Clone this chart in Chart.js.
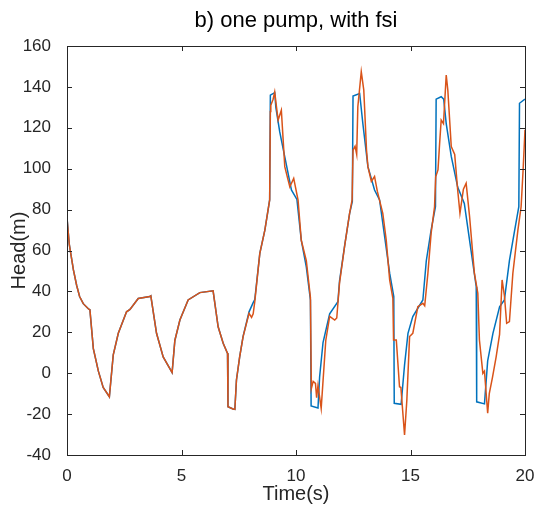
<!DOCTYPE html>
<html>
<head>
<meta charset="utf-8">
<script src="https://cdn.jsdelivr.net/npm/chart.js@4/dist/chart.umd.min.js"></script>
<style>
html,body{margin:0;padding:0;background:#fff;}
canvas{display:block;}
</style>
</head>
<body>
<canvas id="c" width="534" height="510"></canvas>
<script>
const chartTitle = "b) one pump, with fsi";
const xTitle = "Time(s)";
const yTitle = "Head(m)";
const xTicks = [0, 5, 10, 15, 20];
const yTicks = [-40, -20, 0, 20, 40, 60, 80, 100, 120, 140, 160];

const timeBlue = [0,0.1,0.28,0.42,0.55,0.71,0.93,1.0,1.15,1.37,1.58,1.85,2.02,2.24,2.6,2.75,3.11,3.62,3.66,3.91,4.2,4.59,4.71,4.93,5.29,5.8,6.38,6.6,6.82,7.01,7.03,7.25,7.33,7.4,7.54,7.69,7.95,8.13,8.2,8.42,8.64,8.85,8.88,9.07,9.12,9.29,9.51,9.8,10.04,10.23,10.45,10.63,10.66,10.96,11.03,11.18,11.47,11.83,11.9,12.12,12.34,12.46,12.49,12.78,12.92,13.14,13.43,13.65,14.09,14.27,14.29,14.59,14.74,14.89,15.1,15.54,15.69,15.9,16.09,16.12,16.34,16.45,16.56,16.78,17.06,17.35,17.58,17.87,17.89,18.23,18.37,18.6,18.89,19.1,19.32,19.55,19.73,19.76,20.0];
const headBlue = [76,63,50.5,43,37.5,34,31.5,31,12,1,-7,-11.5,9,19.5,30,31.2,36.5,37.5,37.8,19.5,8,0.3,16,26,35.8,39.4,40.3,22.7,14.6,9.7,-16.4,-17.5,-17.7,-3.3,8,18,30,34.5,36,58.6,70,84.7,136,137.2,130,118,105.8,89.6,85,65.1,52,35.8,-16,-17,-2,15,29,35,45,62,78,84,135.5,136.8,122,101,89.6,84.7,48.9,37.5,-14.7,-15.2,4,19.5,27.7,35.8,55,70,81.4,134,135.2,134,122,106,91,83,65,42.3,-14,-15,6,19.5,32.5,35.8,55,70,81.4,132,134];

const timeOrange = [0,0.1,0.28,0.42,0.55,0.71,0.93,1.0,1.15,1.37,1.58,1.85,2.02,2.24,2.6,2.75,3.11,3.62,3.66,3.91,4.2,4.59,4.71,4.93,5.29,5.8,6.38,6.6,6.82,7.01,7.03,7.25,7.33,7.4,7.54,7.69,7.95,8.06,8.13,8.2,8.42,8.64,8.85,8.88,8.9,9.0,9.07,9.15,9.22,9.36,9.51,9.62,9.73,9.9,10.09,10.23,10.45,10.63,10.67,10.75,10.85,10.9,10.96,11.1,11.3,11.47,11.69,11.78,11.9,12.12,12.34,12.45,12.49,12.58,12.65,12.7,12.85,12.96,13.08,13.14,13.29,13.43,13.55,13.79,13.94,14.09,14.23,14.26,14.38,14.52,14.58,14.74,14.84,14.96,15.1,15.32,15.54,15.62,15.76,15.9,16.05,16.1,16.2,16.27,16.34,16.44,16.56,16.63,16.78,16.93,17.06,17.16,17.31,17.43,17.58,17.79,17.94,18.01,18.16,18.23,18.37,18.44,18.58,18.74,18.89,19.0,19.1,19.2,19.32,19.47,19.69,19.83,19.92,20.0];
const headOrange = [76,63,50.5,43,37.5,34,31.5,31,12,1,-7,-11.5,9,19.5,30,31.2,36.5,37.5,37.8,19.5,8,0.3,16,26,35.8,39.4,40.3,22.7,14.6,9.7,-16.4,-17.5,-17.7,-3.3,8,17.9,29.3,27.3,29,35,58.6,70,84.7,128,131,134,137.5,130,123.8,128.6,101,96,91.2,95.3,84.7,65,55,37,-7.6,-4,-5,-12,-6,-17.2,16,27.8,26,27,44,61.9,78.2,84.7,109,111,107,130.3,147.4,138.4,109,101,93.8,96.2,89,78.2,65.1,45.6,36.6,16.2,16.2,-6.6,-7,-30.2,-13.2,17.9,19.5,32.5,34.2,33,48.9,68.4,81.4,96,99.4,112,123.8,122,145.8,138.4,110.8,107,89.6,78.2,90,92.9,76.6,48.9,39.1,16.2,-0.1,1,-19.6,-10,-2,8,19,45.6,38,24.4,25.2,48.9,70,81.4,100,119];

const toPts = (xs, ys) => xs.map((x, i) => ({x: x, y: ys[i]}));

const boxPlugin = {
  id: 'matlabBox',
  afterDatasetsDraw(chart) {
    const {ctx, chartArea: a, scales} = chart;
    ctx.save();
    ctx.strokeStyle = '#262626';
    ctx.lineWidth = 1;
    ctx.beginPath();
    const L = 5;
    xTicks.forEach(v => {
      const px = Math.round(scales.x.getPixelForValue(v)) + 0.5;
      ctx.moveTo(px, a.bottom); ctx.lineTo(px, a.bottom - L);
      ctx.moveTo(px, a.top); ctx.lineTo(px, a.top + L);
    });
    yTicks.forEach(v => {
      const py = Math.round(scales.y.getPixelForValue(v)) + 0.5;
      ctx.moveTo(a.left, py); ctx.lineTo(a.left + L, py);
      ctx.moveTo(a.right, py); ctx.lineTo(a.right - L, py);
    });
    ctx.stroke();
    ctx.strokeRect(Math.round(a.left) + 0.5, Math.round(a.top) + 0.5, Math.round(a.right - a.left), Math.round(a.bottom - a.top));
    ctx.restore();
  }
};

const font = 'Liberation Sans, Arial, sans-serif';

new Chart(document.getElementById('c'), {
  type: 'line',
  data: {
    datasets: [
      {label: 'with fsi', data: toPts(timeOrange, headOrange), borderColor: '#D95319', borderWidth: 1.5, pointRadius: 0, tension: 0, fill: false, order: 0},
      {label: 'without fsi', data: toPts(timeBlue, headBlue), borderColor: '#0072BD', borderWidth: 1.5, pointRadius: 0, tension: 0, fill: false, order: 1}
    ]
  },
  options: {
    responsive: false,
    devicePixelRatio: 1,
    animation: false,
    layout: {padding: {left: 0, right: 9, top: 0, bottom: 0}},
    plugins: {
      legend: {display: false},
      tooltip: {enabled: false},
      title: {
        display: true, text: chartTitle, color: '#000', fullSize: false,
        font: {family: font, size: 22, weight: 'normal', lineHeight: 1.2},
        padding: {top: 8, bottom: 11.6}
      }
    },
    scales: {
      x: {
        type: 'linear', min: 0, max: 20,
        grid: {display: false}, border: {display: false},
        afterBuildTicks: s => { s.ticks = xTicks.map(v => ({value: v})); },
        afterFit: s => { s.height = 55; s.paddingLeft = 0; s.paddingRight = 0; },
        ticks: {color: '#262626', font: {family: font, size: 17}, padding: 3, maxRotation: 0},
        title: {display: true, text: xTitle, color: '#262626', font: {family: font, size: 20}, padding: {top: 0, bottom: 4}}
      },
      y: {
        type: 'linear', min: -40, max: 160,
        grid: {display: false}, border: {display: false},
        afterBuildTicks: s => { s.ticks = yTicks.map(v => ({value: v})); },
        afterFit: s => { s.width = 67; s.paddingTop = 0; s.paddingBottom = 0; },
        ticks: {color: '#262626', font: {family: font, size: 17}, padding: 8},
        title: {display: true, text: yTitle, color: '#262626', font: {family: font, size: 20}, padding: {top: 7, bottom: 0}}
      }
    }
  },
  plugins: [boxPlugin]
});
</script>
</body>
</html>
